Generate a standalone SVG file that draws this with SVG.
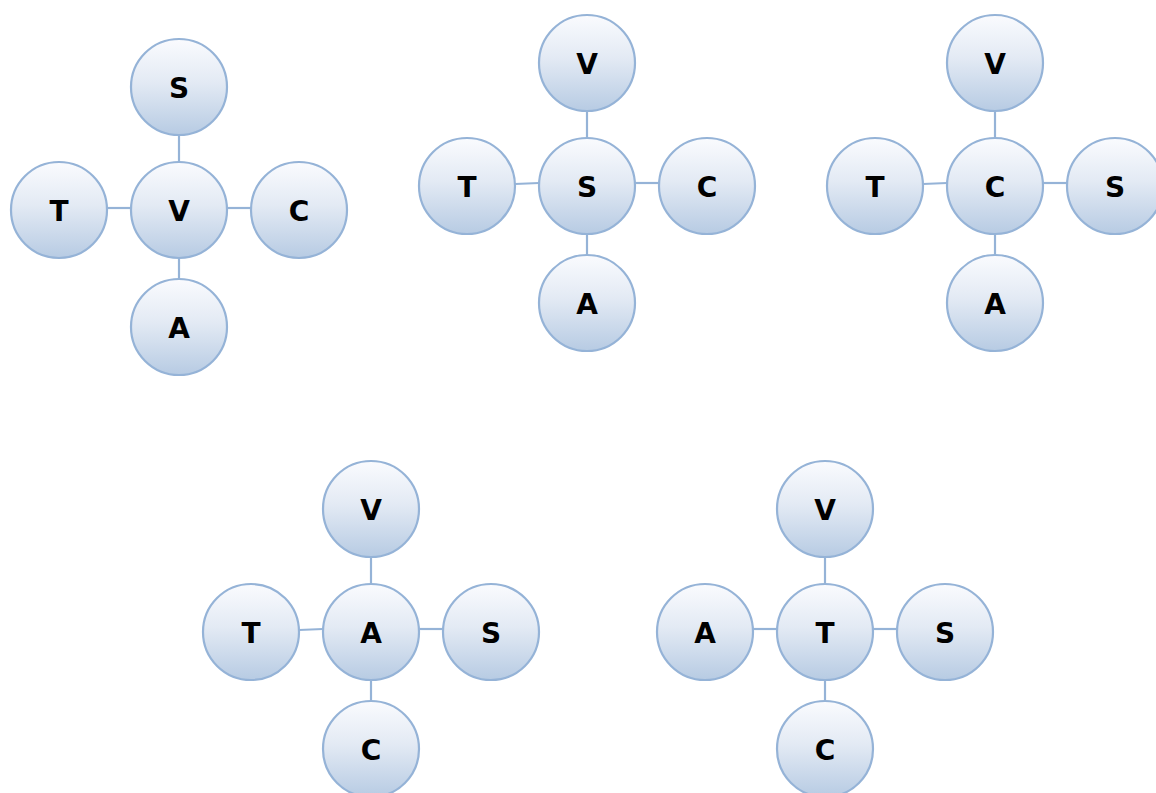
<svg xmlns="http://www.w3.org/2000/svg" width="1156" height="793" viewBox="0 0 1156 793">
  <defs>
    <linearGradient id="fill" x1="0" y1="0" x2="0" y2="1">
      <stop offset="0" stop-color="#FAFBFE"/>
      <stop offset="0.45" stop-color="#E3EAF4"/>
      <stop offset="1" stop-color="#B7CBE3"/>
    </linearGradient>
    <style>
      .n circle { fill: url(#fill); stroke: #95B3D7; stroke-width: 2.2; }
      .n text { font-family: "DejaVu Sans", "Liberation Sans", sans-serif; font-weight: bold; font-size: 28px; fill: #000; text-anchor: middle; dominant-baseline: central; }
      .edges line { stroke: #95B3D7; stroke-width: 2.2; }
    </style>
  </defs>
  <rect width="1156" height="793" fill="#fff"/>

  <g class="edges">
    <!-- star 1: V -->
    <line x1="179" y1="135" x2="179" y2="162"/>
    <line x1="107" y1="208" x2="131" y2="208"/>
    <line x1="227" y1="208" x2="251" y2="208"/>
    <line x1="179" y1="258" x2="179" y2="279"/>
    <!-- star 2: S -->
    <line x1="587" y1="111" x2="587" y2="138"/>
    <line x1="515" y1="184" x2="539" y2="183"/>
    <line x1="635" y1="183" x2="659" y2="183"/>
    <line x1="587" y1="234" x2="587" y2="255"/>
    <!-- star 3: C -->
    <line x1="995" y1="111" x2="995" y2="138"/>
    <line x1="923" y1="184" x2="947" y2="183"/>
    <line x1="1043" y1="183" x2="1067" y2="183"/>
    <line x1="995" y1="234" x2="995" y2="255"/>
    <!-- star 4: A -->
    <line x1="371" y1="557" x2="371" y2="584"/>
    <line x1="299" y1="630" x2="323" y2="629"/>
    <line x1="419" y1="629" x2="443" y2="629"/>
    <line x1="371" y1="680" x2="371" y2="701"/>
    <!-- star 5: T -->
    <line x1="825" y1="557" x2="825" y2="584"/>
    <line x1="753" y1="629" x2="777" y2="629"/>
    <line x1="873" y1="629" x2="897" y2="629"/>
    <line x1="825" y1="680" x2="825" y2="701"/>
  </g>

  <!-- star 1 -->
  <g id="s1-S" class="n"><circle cx="179" cy="87" r="48"/><text x="179" y="88">S</text></g>
  <g id="s1-T" class="n"><circle cx="59" cy="210" r="48"/><text x="59" y="211">T</text></g>
  <g id="s1-V" class="n"><circle cx="179" cy="210" r="48"/><text x="179" y="211">V</text></g>
  <g id="s1-C" class="n"><circle cx="299" cy="210" r="48"/><text x="299" y="211">C</text></g>
  <g id="s1-A" class="n"><circle cx="179" cy="327" r="48"/><text x="179" y="328">A</text></g>

  <!-- star 2 -->
  <g id="s2-V" class="n"><circle cx="587" cy="63" r="48"/><text x="587" y="64">V</text></g>
  <g id="s2-T" class="n"><circle cx="467" cy="186" r="48"/><text x="467" y="187">T</text></g>
  <g id="s2-S" class="n"><circle cx="587" cy="186" r="48"/><text x="587" y="187">S</text></g>
  <g id="s2-C" class="n"><circle cx="707" cy="186" r="48"/><text x="707" y="187">C</text></g>
  <g id="s2-A" class="n"><circle cx="587" cy="303" r="48"/><text x="587" y="304">A</text></g>

  <!-- star 3 -->
  <g id="s3-V" class="n"><circle cx="995" cy="63" r="48"/><text x="995" y="64">V</text></g>
  <g id="s3-T" class="n"><circle cx="875" cy="186" r="48"/><text x="875" y="187">T</text></g>
  <g id="s3-C" class="n"><circle cx="995" cy="186" r="48"/><text x="995" y="187">C</text></g>
  <g id="s3-S" class="n"><circle cx="1115" cy="186" r="48"/><text x="1115" y="187">S</text></g>
  <g id="s3-A" class="n"><circle cx="995" cy="303" r="48"/><text x="995" y="304">A</text></g>

  <!-- star 4 -->
  <g id="s4-V" class="n"><circle cx="371" cy="509" r="48"/><text x="371" y="510">V</text></g>
  <g id="s4-T" class="n"><circle cx="251" cy="632" r="48"/><text x="251" y="633">T</text></g>
  <g id="s4-A" class="n"><circle cx="371" cy="632" r="48"/><text x="371" y="633">A</text></g>
  <g id="s4-S" class="n"><circle cx="491" cy="632" r="48"/><text x="491" y="633">S</text></g>
  <g id="s4-C" class="n"><circle cx="371" cy="749" r="48"/><text x="371" y="750">C</text></g>

  <!-- star 5 -->
  <g id="s5-V" class="n"><circle cx="825" cy="509" r="48"/><text x="825" y="510">V</text></g>
  <g id="s5-A" class="n"><circle cx="705" cy="632" r="48"/><text x="705" y="633">A</text></g>
  <g id="s5-T" class="n"><circle cx="825" cy="632" r="48"/><text x="825" y="633">T</text></g>
  <g id="s5-S" class="n"><circle cx="945" cy="632" r="48"/><text x="945" y="633">S</text></g>
  <g id="s5-C" class="n"><circle cx="825" cy="749" r="48"/><text x="825" y="750">C</text></g>
</svg>
